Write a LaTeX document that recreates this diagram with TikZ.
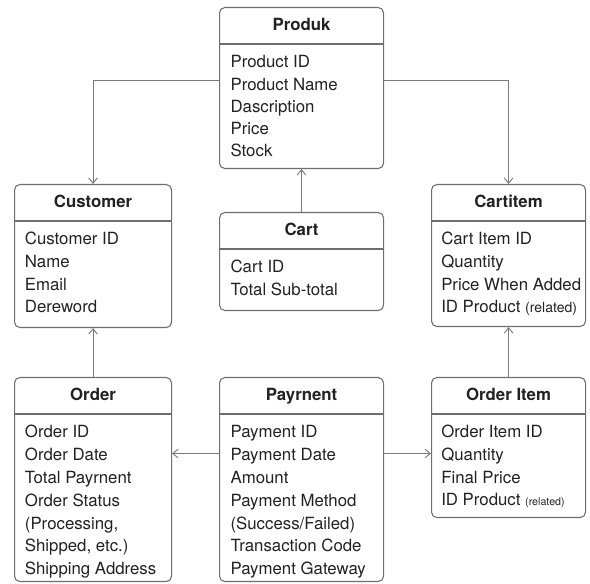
\documentclass[tikz,border=0pt]{standalone}
\usepackage{fontspec}
\setmainfont{TeX Gyre Heros}
\usetikzlibrary{arrows.meta}
\definecolor{boxline}{HTML}{6E6E6E}
\definecolor{linkline}{HTML}{7A7A7A}
\definecolor{inkdark}{HTML}{222222}

\begin{document}
\begin{tikzpicture}[x=0.75pt,y=-0.75pt,
    font=\fontsize{12.6}{15}\selectfont,
    entity/.style={draw=boxline,line width=0.8pt,fill=white,rounded corners=4pt,anchor=north west,inner sep=0pt},
    etitle/.style={anchor=base,inner sep=0pt,text=inkdark,font=\fontsize{12.6}{15}\selectfont\bfseries},
    field/.style={anchor=base west,inner sep=0pt,text=inkdark},
    divider/.style={draw=boxline,line width=0.8pt},
    link/.style={draw=linkline,line width=0.7pt,-{Straight Barb[length=4pt,width=6.5pt]}}]
  \useasboundingbox (0,0) rectangle (590,584);

  % boxes
  \node[entity,minimum width=123pt,minimum height=120.75pt] (produk) at (219,7) {};
  \node[entity,minimum width=117.75pt,minimum height=107.25pt] (customer) at (14,184) {};
  \node[entity,minimum width=123pt,minimum height=73.5pt] (cart) at (219,212) {};
  \node[entity,minimum width=115.5pt,minimum height=106.5pt] (cartitem) at (431,184) {};
  \node[entity,minimum width=117.75pt,minimum height=153pt] (order) at (14,377) {};
  \node[entity,minimum width=123pt,minimum height=153pt] (payment) at (219,377) {};
  \node[entity,minimum width=115.5pt,minimum height=105pt] (orderitem) at (431,377) {};

  % titles and dividers
  \foreach \e/\t in {produk/Produk,customer/Customer,cart/Cart,cartitem/Cartitem,order/Order,payment/Payrnent,orderitem/Order Item}{
    \node[etitle] (\e-title) at ([yshift=-18pt]\e.north) {\t};
    \draw[divider] ([yshift=-27.75pt]\e.north west) -- ([yshift=-27.75pt]\e.north east);
  }

  % fields
  \foreach \f [count=\i] in {Product ID,Product Name,Dascription,Price,Stock}
    \node[field] (produk-\i) at ([xshift=8.5pt,yshift=-45.75pt-(\i-1)*16.6pt]produk.north west) {\f};
  \foreach \f [count=\i] in {Customer ID,Name,Email,Dereword}
    \node[field] (customer-\i) at ([xshift=8pt,yshift=-45.75pt-(\i-1)*17pt]customer.north west) {\f};
  \foreach \f [count=\i] in {Cart ID,Total Sub-total}
    \node[field] (cart-\i) at ([xshift=8.5pt,yshift=-45.75pt-(\i-1)*16.6pt]cart.north west) {\f};
  \foreach \f [count=\i] in {Cart Item ID,Quantity,Price When Added,{ID Product {\fontsize{10.5}{12}\selectfont(related)}}}
    \node[field] (cartitem-\i) at ([xshift=7.5pt,yshift=-45.75pt-(\i-1)*17pt]cartitem.north west) {\f};
  \foreach \f [count=\i] in {Order ID,Order Date,Total Payrnent,Order Status,{(Processing,}, {Shipped, etc.)},Shipping Address}
    \node[field] (order-\i) at ([xshift=8pt,yshift=-45.75pt-(\i-1)*17.1pt]order.north west) {\f};
  \foreach \f [count=\i] in {Payment ID,Payment Date,Amount,Payment Method,(Success/Failed),Transaction Code,Payment Gateway}
    \node[field] (payment-\i) at ([xshift=8.5pt,yshift=-45.75pt-(\i-1)*17.1pt]payment.north west) {\f};
  \foreach \f [count=\i] in {Order Item ID,Quantity,Final Price,{ID Product {\fontsize{8}{10}\selectfont(related)}}}
    \node[field] (orderitem-\i) at ([xshift=7.5pt,yshift=-45.75pt-(\i-1)*17pt]orderitem.north west) {\f};

  % connectors
  \draw[link] ([yshift=5.6pt]produk.west) -| (customer.north);
  \draw[link] ([yshift=5.6pt]produk.east) -| (cartitem.north);
  \draw[link] (cart.north) -- (produk.south);
  \draw[link] (order.north) -- (customer.south);
  \draw[link] (orderitem.north) -- (cartitem.south);
  \draw[link] ([yshift=19.5pt]payment.west) -- ([yshift=19.5pt]order.east);
  \draw[link] ([yshift=19.5pt]payment.east) -- ([yshift=19.5pt]payment.east -| orderitem.west);
\end{tikzpicture}
\end{document}
